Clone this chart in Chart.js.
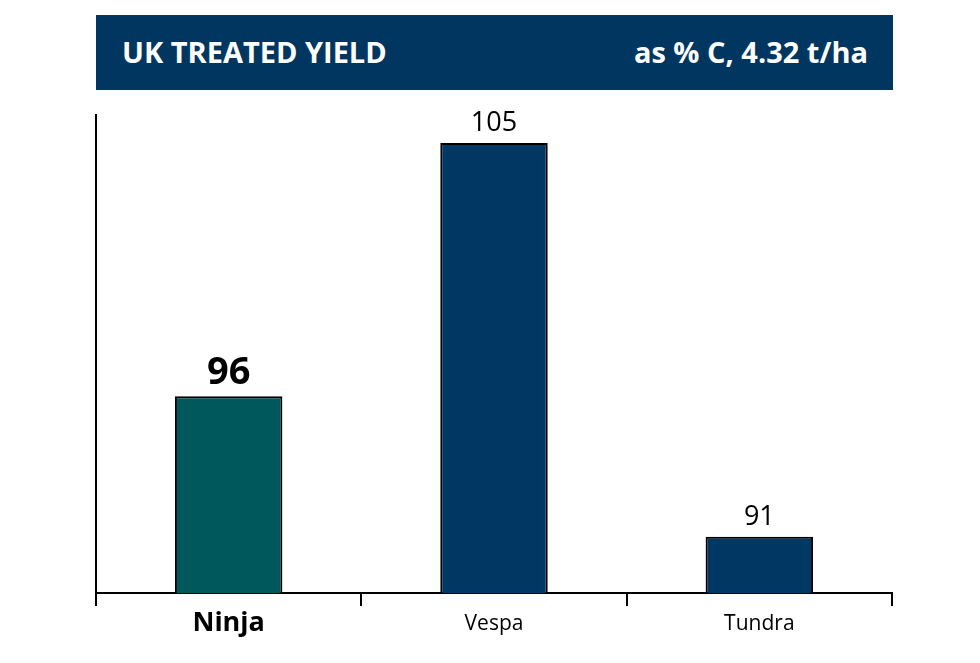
<!DOCTYPE html>
<html>
<head>
<meta charset="utf-8">
<script src="https://cdn.jsdelivr.net/npm/chart.js@4"></script>
<style>
  html, body { margin: 0; padding: 0; background: #ffffff; }
  #wrap { position: relative; width: 980px; height: 663px; }
  #chart { position: absolute; left: 0; top: 0; }
  #header {
    position: absolute; left: 96px; top: 15px; width: 797px; height: 75px;
    background: #00365f; color: #ffffff;
    font-family: "Open Sans", sans-serif; font-weight: 700; font-size: 29px;
    box-sizing: border-box; padding: 0 25px 2px 26px;
    display: flex; align-items: center; justify-content: space-between;
  }
</style>
</head>
<body>
<div id="wrap">
  <canvas id="chart" width="980" height="663"></canvas>
  <div id="header"><span id="title">UK TREATED YIELD</span><span id="subtitle">as % C, 4.32 t/ha</span></div>
</div>
<script>
const categories = ["Ninja", "Vespa", "Tundra"];
const values = [96, 105, 91];
const barColors = ["#00585c", "#003864", "#003864"];
const yMin = 89;
const yMax = 106;

const valueLabels = {
  id: 'valueLabels',
  afterDatasetsDraw(chart) {
    const ctx = chart.ctx;
    const meta = chart.getDatasetMeta(0);
    ctx.save();
    ctx.fillStyle = '#000000';
    ctx.textAlign = 'center';
    ctx.textBaseline = 'alphabetic';
    meta.data.forEach((bar, i) => {
      if (i === 0) {
        ctx.font = '700 38px "Open Sans", sans-serif';
      } else {
        ctx.font = '400 27px "Open Sans", sans-serif';
      }
      ctx.fillText(String(values[i]), bar.x, bar.y - 12);
    });
    ctx.restore();
  }
};

new Chart(document.getElementById('chart'), {
  type: 'bar',
  data: {
    labels: categories,
    datasets: [{
      data: values,
      backgroundColor: barColors,
      borderColor: '#000000',
      borderWidth: 2,
      borderSkipped: 'bottom',
      barPercentage: 0.405,
      categoryPercentage: 1.0
    }]
  },
  options: {
    responsive: false,
    animation: false,
    devicePixelRatio: 1,
    layout: { padding: { left: 96, right: 88, top: 115, bottom: 0 } },
    plugins: { legend: { display: false }, tooltip: { enabled: false }, title: { display: false } },
    scales: {
      x: {
        grid: { display: true, offset: true, drawOnChartArea: false, drawTicks: true, tickLength: 13, color: '#000000', lineWidth: 2 },
        border: { display: true, color: '#000000', width: 2 },
        ticks: {
          color: '#000000',
          padding: 1,
          font: (c) => c.index === 0
            ? { family: '"Open Sans", sans-serif', size: 27, weight: '700', lineHeight: 1.2 }
            : { family: '"Open Sans", sans-serif', size: 21, weight: '400', lineHeight: 1.6 }
        },
        afterFit: (s) => { s.height = 70; }
      },
      y: {
        min: yMin,
        max: yMax,
        grid: { display: false },
        border: { display: true, color: '#000000', width: 2 },
        ticks: { display: false },
        afterFit: (s) => { s.width = 0; }
      }
    }
  },
  plugins: [valueLabels]
});
</script>
</body>
</html>
